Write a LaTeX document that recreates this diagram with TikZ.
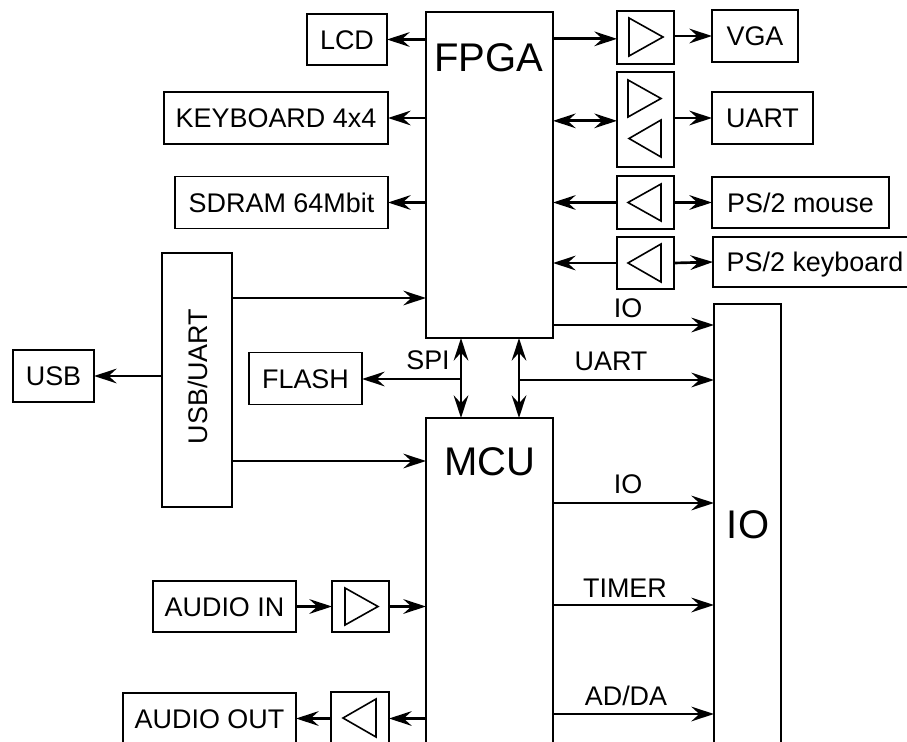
\documentclass[tikz,border=0pt]{standalone}
\usepackage{fontspec}
\setmainfont{Liberation Sans}
\usetikzlibrary{arrows.meta}

\tikzset{boxsize/.style 2 args={minimum width=#1*0.75pt, minimum height=#2*0.75pt}}

\begin{document}
\begin{tikzpicture}[x=0.75pt, y=-0.75pt]
    \tikzstyle{block} = [draw=black, line width=1.4pt, inner sep=0pt, outer sep=0pt, text height=14.4pt, text depth=0pt, font=\fontsize{20.2}{24}\selectfont];
    \tikzstyle{bigtext} = [inner sep=0pt, font=\fontsize{30}{36}\selectfont];
    \tikzstyle{wirelabel} = [inner sep=0pt, font=\fontsize{20.2}{24}\selectfont];
    \tikzstyle{tri} = [line width=1.2pt, line join=miter];
    \tikzstyle{link} = [line width=2pt, -{Stealth[length=17pt, width=11pt, inset=6pt]}];
    \tikzstyle{bus} = [link, {Stealth[length=17pt, width=11pt, inset=6pt]}-{Stealth[length=17pt, width=11pt, inset=6pt]}];

    \path[use as bounding box, clip] (0,0) rectangle (907,742);

    % main blocks, the lower ones run off the page
    \node[block, boxsize={127}{326}] (FPGA) at (489.5,175) {};
    \node[block, boxsize={127}{382}] (MCU) at (489.5,609) {};
    \node[block, boxsize={67}{496}] (IO) at (747.5,552) {};
    \node[block, boxsize={70}{254}] (USBUART) at (197,380) {};

    \node[bigtext] (FPGA-text) at (488.5,58) {FPGA};
    \node[bigtext] (MCU-text) at (490,462) {MCU};
    \node[bigtext] (IO-text) at (748,525) {IO};
    \node[wirelabel, rotate=90] (USBUART-text) at (198,376.5) {USB/UART};

    % left side
    \node[block, boxsize={80}{51}] (LCD) at (347,39.5) {LCD};
    \node[block, boxsize={224}{52}] (KEYB) at (276,118) {KEYBOARD 4x4};
    \node[block, boxsize={213}{52}] (SDRAM) at (281.5,202.5) {SDRAM 64Mbit};
    \node[block, boxsize={81}{52}] (USB) at (53.5,376) {USB};
    \node[block, boxsize={113}{52}] (FLASH) at (305.5,378.5) {FLASH};
    \node[block, boxsize={143}{51}] (AIN) at (224.5,606.5) {AUDIO IN};
    \node[block, boxsize={173}{52}] (AOUT) at (209.5,719) {AUDIO OUT};

    % right side
    \node[block, boxsize={86}{52}] (VGA) at (755,36) {VGA};
    \node[block, boxsize={101}{52}] (UART) at (762.5,118) {UART};
    \node[block, boxsize={177}{51}] (MOUSE) at (800.5,202.5) {PS/2 mouse};
    \node[block, boxsize={204}{50}] (KEYBOARD) at (815,262) {PS/2 keyboard};

    % buffers
    \foreach \name/\y/\h in {A1/37.5/53, A2/119.5/95, A3/202.5/53, A4/263/52}
        \node[block, boxsize={57}{\h}] (\name) at (645.5,\y) {};
    \node[block, boxsize={57}{51}] (A5) at (360.5,606.5) {};
    \node[block, boxsize={58}{53}] (A6) at (360,718.5) {};

    \foreach \a/\b/\y/\s in {663/629/37/19, 661/628/98.5/18.5, 629/661/138.5/18.5, 628/661/202.5/18.5, 628/661/263/19, 378/345/606.5/18.5, 343/376/718/19}
        \draw[tri] (\b,\y-\s) -- (\a,\y) -- (\b,\y+\s) -- cycle;

    % free ends of the wires
    \coordinate (fpga-usb) at (426,298);
    \coordinate (mcu-usb) at (426,461);
    \coordinate (spi) at (461,379);
    \coordinate (uartbus) at (519,380);
    \coordinate (io-1) at (714,325);
    \coordinate (io-2) at (714,503);
    \coordinate (io-3) at (714,605);
    \coordinate (io-4) at (714,714);

    \foreach \n in {LCD,KEYB,SDRAM}
        \draw[link] (FPGA.west |- \n.east) -- (\n.east);

    \draw[link] ([yshift=-1pt]FPGA.east |- A1.west) -- ([yshift=-1pt]A1.west);
    \draw[bus] ([yshift=-1pt]FPGA.east |- A2.west) -- ([yshift=-1pt]A2.west);
    \draw[link] (A3.west) -- (FPGA.east |- A3.west);
    \draw[link] (A4.west) -- (FPGA.east |- A4.west);

    \draw[link] (A1.east |- VGA.west) -- (VGA.west);
    \draw[link] (A2.east |- UART.west) -- (UART.west);
    \draw[link] (A3.east) -- (MOUSE.west);
    \draw[link] (A4.east) -- (KEYBOARD.west);

    \draw[link] (USBUART.east |- fpga-usb) -- (fpga-usb);
    \draw[link] (USBUART.east |- mcu-usb) -- (mcu-usb);
    \draw[link] (USBUART.west |- USB.east) -- (USB.east);

    \draw[bus] (spi |- FPGA.south) -- (spi |- MCU.north);
    \draw[bus] (uartbus |- FPGA.south) -- (uartbus |- MCU.north);
    \draw[link] (spi) -- (FLASH.east |- spi);
    \draw[link] (uartbus) -- (IO.west |- uartbus);

    \draw[link] (FPGA.east |- io-1) -- (io-1);
    \foreach \i in {2,3,4}
        \draw[link] (MCU.east |- io-\i) -- (io-\i);

    \draw[link] (AIN.east) -- (A5.west);
    \draw[link] (A5.east) -- (MCU.west |- A5.east);
    \draw[link] (MCU.west |- A6.east) -- (A6.east);
    \draw[link] (A6.west) -- (AOUT.east |- A6.west);

    % wire labels
    \node[wirelabel] (L-spi) at (428,360) {SPI};
    \node[wirelabel] (L-uart) at (611,361) {UART};
    \node[wirelabel] (L-io1) at (628,308) {IO};
    \node[wirelabel] (L-io2) at (628,484) {IO};
    \node[wirelabel] (L-timer) at (625,588) {TIMER};
    \node[wirelabel] (L-adda) at (626,696) {AD/DA};

\end{tikzpicture}
\end{document}
